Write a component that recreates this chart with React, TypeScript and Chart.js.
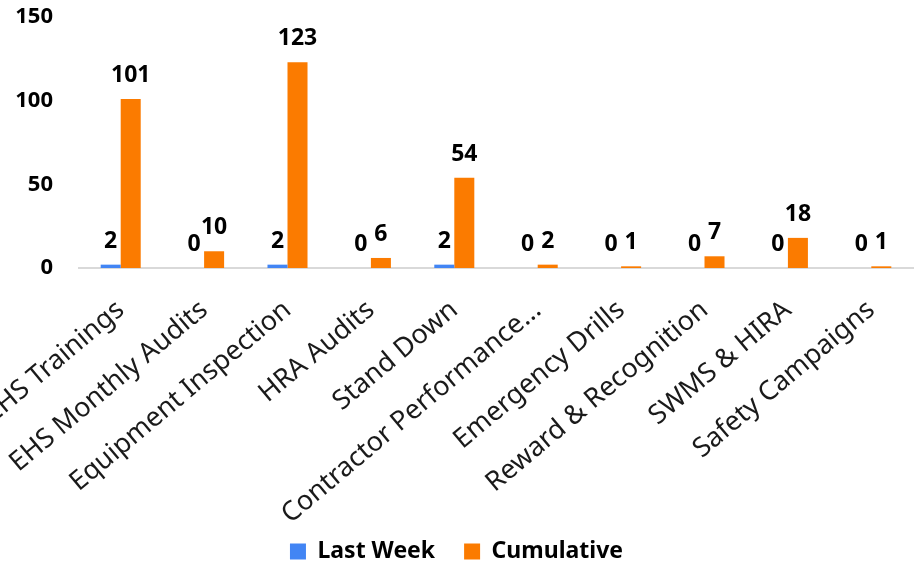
import React, { useEffect, useRef } from 'react';
import { Chart, registerables } from 'chart.js';

Chart.register(...registerables);

const categories = [
  'EHS Trainings',
  'EHS Monthly Audits',
  'Equipment Inspection',
  'HRA Audits',
  'Stand Down',
  'Contractor Performance...',
  'Emergency Drills',
  'Reward & Recognition',
  'SWMS & HIRA',
  'Safety Campaigns',
];
const lastWeek = [2, 0, 2, 0, 2, 0, 0, 0, 0, 0];
const cumulative = [101, 10, 123, 6, 54, 2, 1, 7, 18, 1];
const yTicks = [0, 50, 100, 150];

const FONT = '"Noto Sans", sans-serif';

const valueLabels = {
  id: 'valueLabels',
  afterDatasetsDraw(chart: any) {
    const ctx = chart.ctx;
    ctx.save();
    ctx.font = `bold 23px ${FONT}`;
    ctx.fillStyle = '#000';
    ctx.textAlign = 'center';
    ctx.textBaseline = 'alphabetic';
    chart.data.datasets.forEach((ds: any, di: number) => {
      const meta = chart.getDatasetMeta(di);
      meta.data.forEach((el: any, i: number) => {
        ctx.fillText(String(ds.data[i]), el.x, el.y - 17);
      });
    });
    ctx.restore();
  },
};

const adjustLayout = {
  id: 'adjustLayout',
  afterLayout(chart: any) {
    const l = chart.legend;
    if (l) {
      l.top += 10;
      l.bottom += 10;
    }
    const x = chart.scales.x;
    if (x) x.bottom = chart.height;
  },
};

export default function App() {
  const ref = useRef<HTMLCanvasElement | null>(null);

  useEffect(() => {
    document.body.style.margin = '0';
    if (!ref.current) return;
    Chart.defaults.font.family = FONT;
    const chart = new Chart(ref.current, {
      type: 'bar',
      data: {
        labels: categories,
        datasets: [
          {
            label: 'Last Week',
            data: lastWeek,
            backgroundColor: '#4285f4',
            borderWidth: 0,
            categoryPercentage: 0.48,
            barPercentage: 1,
          },
          {
            label: 'Cumulative',
            data: cumulative,
            backgroundColor: '#fb7b00',
            borderWidth: 0,
            categoryPercentage: 0.48,
            barPercentage: 1,
          },
        ],
      },
      options: {
        responsive: false,
        animation: false,
        layout: { padding: { top: 17, right: 4, left: 0, bottom: 0 } },
        plugins: {
          tooltip: { enabled: false },
          legend: {
            position: 'bottom',
            labels: {
              boxWidth: 16,
              boxHeight: 16,
              padding: 29,
              color: '#000',
              font: { size: 23, weight: 'bold', family: FONT },
            },
          },
        },
        scales: {
          x: {
            grid: { display: false, drawTicks: false },
            border: { display: true, color: '#d9d9d9', width: 2 },
            ticks: {
              autoSkip: false,
              minRotation: 40,
              maxRotation: 40,
              padding: 26,
              color: '#1a1a1a',
              font: { size: 27, family: FONT },
            },
            afterFit(scale: any) {
              scale.height = 233;
              scale.paddingLeft = 0;
              scale.paddingRight = 0;
            },
          },
          y: {
            min: 0,
            max: 150,
            grid: { display: false, drawTicks: false },
            border: { display: false },
            ticks: {
              padding: 26,
              color: '#000',
              font: { size: 22, weight: 'bold', family: FONT },
            },
            afterBuildTicks(scale: any) {
              scale.ticks = yTicks.map((v) => ({ value: v }));
            },
            afterFit(scale: any) {
              scale.width = 79;
              scale.paddingTop = 0;
              scale.paddingBottom = 0;
            },
          },
        },
      },
      plugins: [valueLabels, adjustLayout],
    } as any);
    return () => chart.destroy();
  }, []);

  return (
    <div style={{ width: 917, height: 563 }}>
      <canvas ref={ref} width={917} height={563} style={{ display: 'block' }} />
    </div>
  );
}
